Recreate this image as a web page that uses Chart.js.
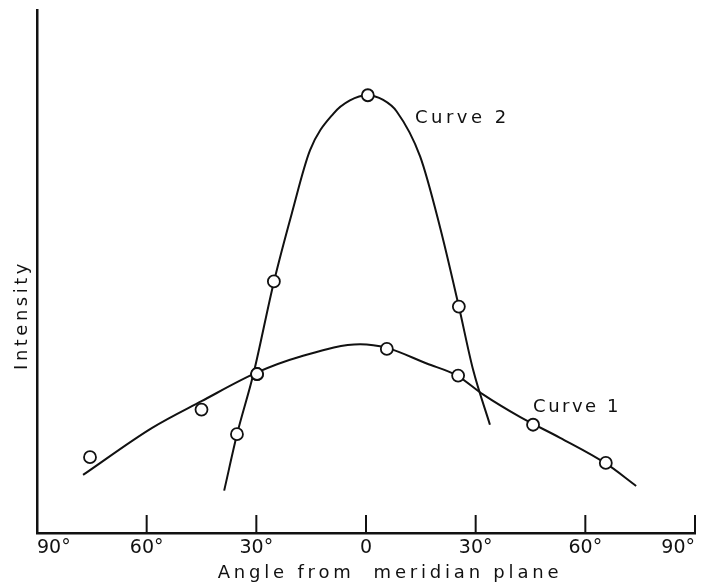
<!DOCTYPE html>
<html>
<head>
<meta charset="utf-8">
<title>Intensity vs angle from meridian plane</title>
<script src="https://cdn.jsdelivr.net/npm/chart.js@4.4.1/dist/chart.umd.min.js"></script>
<style>
	html, body { margin: 0; padding: 0; background: #fff; }
	#wrap { width: 704px; height: 585px; }
</style>
</head>
<body>
<div id="wrap"><canvas id="chart" width="704" height="585"></canvas></div>
<script>
( function () {
	'use strict';

	// ── Data ──────────────────────────────────────────────────────────────────
	// Angle in degrees (left of 0 negative), intensity in arbitrary units 0–100.
	var tickValues = [ -90, -60, -30, 0, 30, 60, 90 ];
	var tickLabels = [ '90°', '60°', '30°', '0', '30°', '60°', '90°' ];

	// Observed points (open circles).
	var curve1PointsX = [ -75.5, -45.0, -29.8, 5.7, 25.2, 45.7, 65.6 ];
	var curve1PointsY = [ 14.5, 23.6, 30.4, 35.2, 30.1, 20.7, 13.4 ];
	var curve2PointsX = [ -35.3, -29.8, -25.2, 0.5, 25.4 ];
	var curve2PointsY = [ 18.9, 30.4, 48.1, 83.7, 43.3 ];

	// Hand-drawn smooth curves.
	var curve1LineX = [ -77.4, -58.5, -45.0, -29.8, -18.1, -1.6, 5.7, 16.6, 24.9, 32.0, 42.1, 53.1, 65.6, 73.9 ];
	var curve1LineY = [ 11.1, 20.1, 25.2, 30.7, 33.7, 36.1, 35.4, 32.4, 30.1, 26.5, 22.2, 18.2, 13.3, 9.0 ];
	var curve2LineX = [ -38.8, -35.2, -30.8, -25.2, -20.3, -15.3, -8.9, -4.4, 0.4, 4.7, 8.4, 14.8, 20.2, 25.4, 29.3, 33.9 ];
	var curve2LineY = [ 8.1, 19.1, 30.4, 48.0, 61.1, 73.2, 80.2, 82.7, 83.7, 82.8, 80.6, 72.0, 58.6, 43.3, 31.2, 20.7 ];

	var curveNames = [ 'Curve 1', 'Curve 2' ];

	// ── Style ─────────────────────────────────────────────────────────────────
	var INK   = '#111';
	var FONT  = '"DejaVu Sans", "Liberation Sans", sans-serif';
	var X_MIN = -90;
	var X_MAX = 90;
	var Y_MIN = 0;
	var Y_MAX = 100;

	function toXY( xs, ys ) {
		return xs.map( function ( x, i ) {
			return { x: x, y: ys[ i ] };
		} );
	}

	function pointSet( label, xs, ys ) {
		return {
			label               : label,
			data                : toXY( xs, ys ),
			showLine            : false,
			pointRadius         : 6,
			pointHoverRadius    : 6,
			pointBorderWidth    : 1.8,
			pointBorderColor    : INK,
			pointBackgroundColor: '#fff',
			order               : 0,
		};
	}

	function lineSet( label, xs, ys ) {
		return {
			label                  : label,
			data                   : toXY( xs, ys ),
			showLine               : true,
			borderColor            : INK,
			borderWidth            : 2,
			pointRadius            : 0,
			cubicInterpolationMode : 'monotone',
			fill                   : false,
			order                  : 1,
		};
	}

	// ── Decorations: inward tick marks, axis titles, curve labels ────────────
	var figureText = {
		id : 'figureText',
		afterDatasetsDraw : function ( chart ) {
			var ctx  = chart.ctx;
			var xs   = chart.scales.x;
			var ys   = chart.scales.y;
			var area = chart.chartArea;

			ctx.save();

			// Tick marks pointing up into the plot.
			ctx.strokeStyle = INK;
			ctx.lineWidth   = 2;
			tickValues.forEach( function ( v ) {
				var px = xs.getPixelForValue( v );
				ctx.beginPath();
				ctx.moveTo( px, area.bottom );
				ctx.lineTo( px, area.bottom - 18 );
				ctx.stroke();
			} );

			ctx.fillStyle    = INK;
			ctx.textBaseline = 'middle';

			// Curve labels.
			ctx.font          = '18px ' + FONT;
			ctx.textAlign     = 'left';
			ctx.letterSpacing = '2.5px';
			ctx.fillText( curveNames[ 0 ], xs.getPixelForValue( 45.7 ), ys.getPixelForValue( 24.1 ) );
			ctx.letterSpacing = '3.5px';
			ctx.fillText( curveNames[ 1 ], xs.getPixelForValue( 13.4 ), ys.getPixelForValue( 79.3 ) );

			// X axis title.
			ctx.textAlign     = 'center';
			ctx.letterSpacing = '3.8px';
			ctx.fillText( 'Angle from  meridian plane', ( area.left + area.right ) / 2 + 24, chart.height - 12 );

			// Y axis title.
			ctx.translate( 22, 315 );
			ctx.rotate( -Math.PI / 2 );
			ctx.letterSpacing = '3.5px';
			ctx.fillText( 'Intensity', 0, 0 );

			ctx.restore();
		},
	};

	// ── Chart ─────────────────────────────────────────────────────────────────
	function init() {
		var ctx = document.getElementById( 'chart' ).getContext( '2d' );

		new Chart( ctx, {
			type : 'scatter',
			data : {
				datasets : [
					pointSet( 'Curve 1 points', curve1PointsX, curve1PointsY ),
					pointSet( 'Curve 2 points', curve2PointsX, curve2PointsY ),
					lineSet( curveNames[ 0 ], curve1LineX, curve1LineY ),
					lineSet( curveNames[ 1 ], curve2LineX, curve2LineY ),
				],
			},
			options : {
				responsive : false,
				animation  : false,
				layout     : { padding: { top: 10, right: 9, left: 0, bottom: 0 } },
				plugins    : {
					legend  : { display: false },
					tooltip : { enabled: false },
				},
				scales : {
					x : {
						type   : 'linear',
						min    : X_MIN,
						max    : X_MAX,
						grid   : { display: false, drawTicks: false },
						border : { display: true, color: INK, width: 2.5 },
						afterBuildTicks : function ( scale ) {
							scale.ticks = tickValues.map( function ( v ) { return { value: v }; } );
						},
						afterFit : function ( scale ) {
							// Let the end labels hang over the edge, as in the figure.
							scale.height       = 52;
							scale.paddingLeft  = 0;
							scale.paddingRight = 0;
						},
						ticks  : {
							color       : INK,
							padding     : 4,
							align       : 'inner',
							font        : { family: FONT, size: 19 },
							maxRotation : 0,
							autoSkip    : false,
							callback    : function ( val, i ) {
								return tickLabels[ i ];
							},
						},
					},
					y : {
						type   : 'linear',
						min    : Y_MIN,
						max    : Y_MAX,
						grid   : { display: false, drawTicks: false },
						border : { display: true, color: INK, width: 2.5 },
						ticks  : { display: false },
						afterFit : function ( scale ) {
							scale.width         = 37;
							scale.paddingTop    = 0;
							scale.paddingBottom = 0;
						},
					},
				},
			},
			plugins : [ figureText ],
		} );
	}

	init();

}() );
</script>
</body>
</html>
